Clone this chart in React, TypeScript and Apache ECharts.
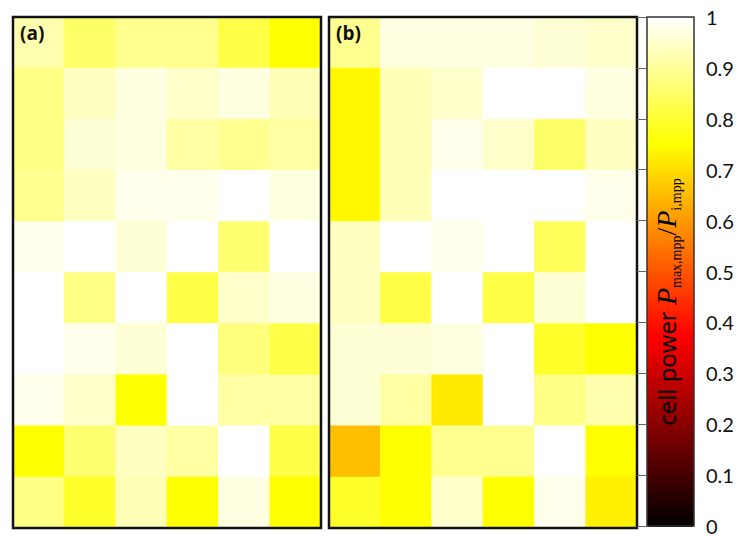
import React, { useEffect, useRef } from "react";
import * as echarts from "echarts";

// Cell power ratio P_max,mpp / P_i,mpp, rows top -> bottom, columns left -> right
const panelA: number[][] = [
  [0.92, 0.85, 0.89, 0.89, 0.82, 0.75],
  [0.88, 0.94, 0.97, 0.95, 0.97, 0.93],
  [0.88, 0.96, 0.97, 0.91, 0.89, 0.91],
  [0.89, 0.94, 0.98, 0.98, 1.0, 0.97],
  [0.98, 1.0, 0.96, 1.0, 0.86, 1.0],
  [1.0, 0.88, 1.0, 0.82, 0.95, 0.97],
  [1.0, 0.98, 0.96, 1.0, 0.87, 0.82],
  [0.98, 0.95, 0.75, 1.0, 0.91, 0.91],
  [0.75, 0.86, 0.94, 0.91, 1.0, 0.82],
  [0.88, 0.79, 0.93, 0.75, 0.97, 0.75],
];

const panelB: number[][] = [
  [0.89, 0.97, 0.97, 0.97, 0.96, 0.95],
  [0.74, 0.93, 0.95, 1.0, 1.0, 0.97],
  [0.74, 0.93, 0.98, 0.95, 0.85, 0.94],
  [0.74, 0.93, 1.0, 1.0, 1.0, 0.98],
  [0.94, 1.0, 0.98, 1.0, 0.84, 1.0],
  [0.94, 0.82, 1.0, 0.82, 0.96, 1.0],
  [0.96, 0.96, 0.97, 1.0, 0.79, 0.75],
  [0.96, 0.91, 0.72, 1.0, 0.88, 0.92],
  [0.655, 0.75, 0.89, 0.89, 1.0, 0.75],
  [0.79, 0.75, 0.95, 0.75, 0.98, 0.73],
];

const columns = ["1", "2", "3", "4", "5", "6"];
const rows = ["1", "2", "3", "4", "5", "6", "7", "8", "9", "10"];
const panelLabels = ["(a)", "(b)"];

// "hot" colour map stops, evenly spaced 0..1
const hotColors = [
  "#000000",
  "#550000",
  "#aa0000",
  "#ff0000",
  "#ff5500",
  "#ffaa00",
  "#ffff00",
  "#ffff80",
  "#ffffff",
];

function toCells(m: number[][]) {
  const out: [number, number, number][] = [];
  m.forEach((row, r) => row.forEach((v, c) => out.push([c, r, v])));
  return out;
}

export default function App() {
  const ref = useRef<HTMLDivElement>(null);
  useEffect(() => {
    if (!ref.current) return;
    const chart = echarts.init(ref.current, null, { renderer: "svg" });
    const gridBase = { show: true, borderColor: "#111", borderWidth: 2.5, z: 10, backgroundColor: "transparent" };
    const catX = (gi: number) => ({
      type: "category" as const,
      data: columns,
      gridIndex: gi,
      show: false,
    });
    const catY = (gi: number) => ({
      type: "category" as const,
      data: rows,
      gridIndex: gi,
      inverse: true,
      show: false,
    });
    const heat = (gi: number, m: number[][]) => ({
      type: "heatmap" as const,
      xAxisIndex: gi,
      yAxisIndex: gi,
      data: toCells(m),
      emphasis: { disabled: true },
      itemStyle: { borderWidth: 0 },
    });
    const sub = { fontSize: 14, fontFamily: "Liberation Serif", color: "#5a0a0a", verticalAlign: "bottom", lineHeight: 14, padding: [0, 0, -2, 0] };
    chart.setOption({
      animation: false,
      backgroundColor: "#fff",
      grid: [
        { ...gridBase, left: 13, top: 17, width: 308, height: 511 },
        { ...gridBase, left: 329, top: 17, width: 308, height: 511 },
        { ...gridBase, left: 647, top: 17, width: 47, height: 510, borderColor: "#333", borderWidth: 1.5 },
      ],
      xAxis: [
        catX(0),
        catX(1),
        { type: "value", gridIndex: 2, min: 0, max: 1, show: false },
      ],
      yAxis: [
        catY(0),
        catY(1),
        {
          type: "value",
          gridIndex: 2,
          min: 0,
          max: 1,
          interval: 0.1,
          position: "right",
          z: 12,
          axisLine: { show: false },
          splitLine: { show: false },
          axisTick: { show: true, inside: true, length: 10, lineStyle: { color: "#666", width: 1 } },
          axisLabel: { fontSize: 20, fontFamily: "Lato", color: "#111", margin: 12 },
        },
      ],
      visualMap: {
        type: "continuous",
        min: 0,
        max: 1,
        seriesIndex: [0, 1],
        calculable: false,
        hoverLink: false,
        inRange: { color: hotColors },
        left: 647,
        top: 17,
        itemWidth: 47,
        itemHeight: 510,
        padding: 0,
        text: undefined,
        showLabel: false,
      },
      series: [heat(0, panelA), heat(1, panelB)],
      graphic: [
        {
          type: "text",
          left: 20,
          top: 23,
          z: 20,
          style: { text: panelLabels[0], fontSize: 19, fontWeight: "bold", fontFamily: "Open Sans", fill: "#111" },
        },
        {
          type: "text",
          left: 336,
          top: 23,
          z: 20,
          style: { text: panelLabels[1], fontSize: 19, fontWeight: "bold", fontFamily: "Open Sans", fill: "#111" },
        },
        {
          type: "text",
          x: 666,
          y: 302,
          rotation: Math.PI / 2,
          z: 20,
          style: {
            text: "{t|cell power }{p|P}{s|max,mpp}{sl|/}{p|P}{s|i,mpp}",
            align: "center",
            verticalAlign: "middle",
            rich: {
              t: { fontSize: 24, fontFamily: "Open Sans", color: "#6a0c0c", lineHeight: 30 },
              p: { fontSize: 28, fontFamily: "Liberation Serif", fontStyle: "italic", color: "#5a0a0a", lineHeight: 30 },
              sl: { fontSize: 28, fontFamily: "Liberation Serif", color: "#5a0a0a", lineHeight: 30 },
              s: sub,
            },
          },
        },
      ],
    });
    return () => chart.dispose();
  }, []);
  return (
    <div
      ref={ref}
      style={{ position: "fixed", left: 0, top: 0, width: 739, height: 536 }}
    />
  );
}
